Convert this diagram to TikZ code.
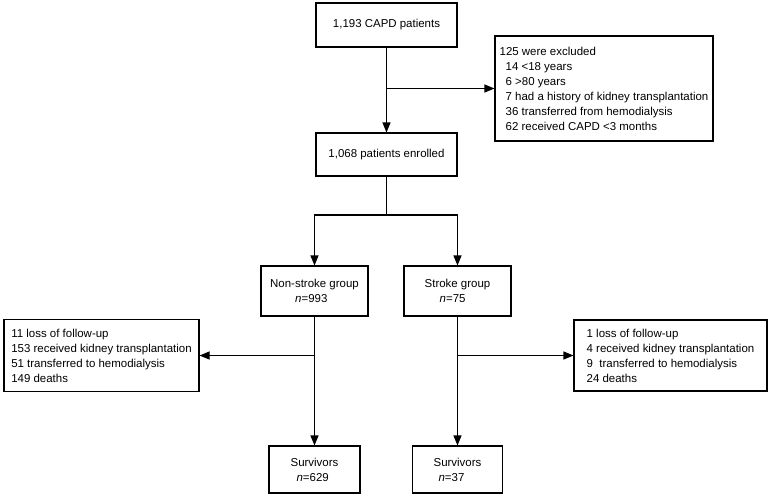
\documentclass[tikz,border=0pt]{standalone}
\usepackage{fontspec}
\setmainfont{Liberation Sans}
\usetikzlibrary{arrows.meta}

\begin{document}
\begin{tikzpicture}[x=0.75pt, y=-0.75pt, >={Triangle[length=7.5pt, width=6pt]}, line width=0.8pt,
    every node/.style={font=\fontsize{8.6}{11.25}\selectfont},
    box/.style={draw, align=left, inner sep=0pt}]
    \useasboundingbox (0,0) rectangle (768,497);
    % Screening and exclusion
    \node[box, minimum width=105.75pt, minimum height=33pt] (cap) at (386.5,25) {1,193 CAPD patients};
    \node[box, minimum width=163.5pt, minimum height=78.75pt] (excl) at (604,88.5)
        {125 were excluded\\
         \hspace{4.5pt}14 <18 years\\
         \hspace{4.5pt}6 >80 years\\
         \hspace{4.5pt}7 had a history of kidney transplantation\\
         \hspace{4.5pt}36 transferred from hemodialysis\\
         \hspace{4.5pt}62 received CAPD <3 months};
    \node[box, minimum width=105.75pt, minimum height=32.25pt] (enrol) at (386.5,154.5) {1,068 patients enrolled};

    % Groups
    \node[box, minimum width=80.25pt, minimum height=37.5pt] (nonstroke) at (314.5,291)
        {Non-stroke group\\\hspace{18.75pt}\textit{n}=993};
    \node[box, minimum width=80.25pt, minimum height=37.5pt] (stroke) at (457.5,291)
        {Stroke group\\\hspace{11.25pt}\textit{n}=75};

    % Follow-up losses
    \node[box, minimum width=146.25pt, minimum height=54pt] (lossL) at (101.5,355.5)
        {11 loss of follow-up\\
         153 received kidney transplantation\\
         51 transferred to hemodialysis\\
         149 deaths};
    \node[box, minimum width=144.75pt, minimum height=53.25pt] (lossR) at (670.5,355.5)
        {1 loss of follow-up\\
         4 received kidney transplantation\\
         9\ \ transferred to hemodialysis\\
         24 deaths};

    % Survivors
    \node[box, minimum width=68.25pt, minimum height=35.25pt] (survL) at (314.5,469.5)
        {Survivors\\\hspace{4.5pt}\textit{n}=629};
    \node[box, minimum width=67.5pt, minimum height=35.25pt] (survR) at (457.5,469.5)
        {Survivors\\\hspace{3.75pt}\textit{n}=37};

    \coordinate (fork) at (386.5,215);

    \path[->]
    % Main line
    (cap) edge (enrol)
    (cap.south |- excl.west) edge (excl)
    % Group follow-up
    (nonstroke) edge (survL)
    (nonstroke |- lossL.east) edge (lossL)
    (stroke) edge (survR)
    (stroke |- lossR.west) edge (lossR);

    % Split into groups
    \draw (enrol) -- (fork);
    \draw[->] (fork) -| (nonstroke);
    \draw[->] (fork) -| (stroke);
\end{tikzpicture}
\end{document}
